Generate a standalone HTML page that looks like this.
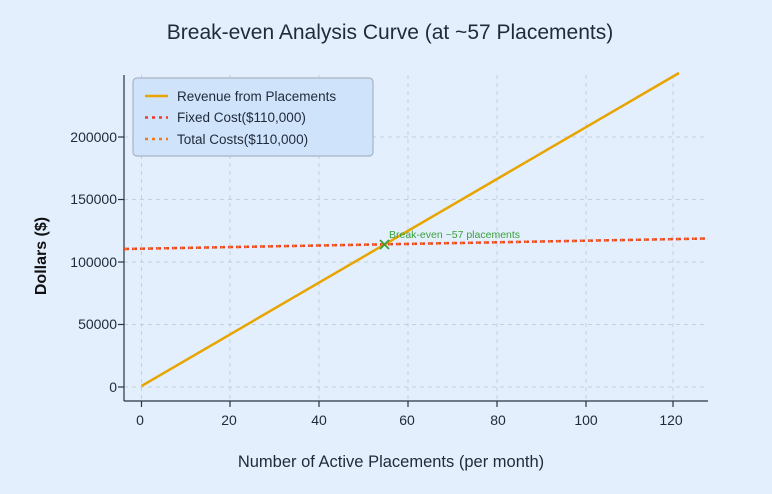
<!DOCTYPE html>
<html><head><style>
body{margin:0;background:#e3effd;}
svg{display:block;font-family:"Liberation Sans",sans-serif;}
</style></head><body>
<svg width="772" height="494" viewBox="0 0 772 494">
<rect width="772" height="494" fill="#e3effd"/>
<text x="390" y="39" font-size="21" fill="#1f2a3a" text-anchor="middle">Break-even Analysis Curve (at ~57 Placements)</text>
<g stroke="#c4cfdc" stroke-width="1" stroke-dasharray="4,4">
<line x1="141.5" y1="75" x2="141.5" y2="401"/><line x1="230" y1="75" x2="230" y2="401"/>
<line x1="319" y1="75" x2="319" y2="401"/><line x1="408" y1="75" x2="408" y2="401"/>
<line x1="497" y1="75" x2="497" y2="401"/><line x1="586" y1="75" x2="586" y2="401"/>
<line x1="673" y1="75" x2="673" y2="401"/>
<line x1="124" y1="387" x2="708" y2="387"/><line x1="124" y1="324.5" x2="708" y2="324.5"/>
<line x1="124" y1="262" x2="708" y2="262"/><line x1="124" y1="199.5" x2="708" y2="199.5"/>
<line x1="124" y1="137" x2="708" y2="137"/>
</g>
<g stroke="#2b3340" stroke-width="1.2">
<line x1="124" y1="75" x2="124" y2="401"/><line x1="124" y1="401" x2="708" y2="401"/>
<line x1="118" y1="387" x2="124" y2="387"/><line x1="118" y1="324.5" x2="124" y2="324.5"/>
<line x1="118" y1="262" x2="124" y2="262"/><line x1="118" y1="199.5" x2="124" y2="199.5"/>
<line x1="118" y1="137" x2="124" y2="137"/>
<line x1="141.5" y1="401" x2="141.5" y2="407"/><line x1="230" y1="401" x2="230" y2="407"/>
<line x1="319" y1="401" x2="319" y2="407"/><line x1="408" y1="401" x2="408" y2="407"/>
<line x1="497" y1="401" x2="497" y2="407"/><line x1="586" y1="401" x2="586" y2="407"/>
<line x1="673" y1="401" x2="673" y2="407"/>
</g>
<g font-size="14" fill="#1f2a3a" text-anchor="end">
<text x="117" y="392">0</text><text x="117" y="329">50000</text><text x="117" y="267">100000</text>
<text x="117" y="204">150000</text><text x="117" y="142">200000</text>
</g>
<g font-size="14" fill="#1f2a3a" text-anchor="middle">
<text x="140" y="425">0</text><text x="229" y="425">20</text><text x="319" y="425">40</text>
<text x="407" y="425">60</text><text x="498" y="425">80</text><text x="586" y="425">100</text><text x="671" y="425">120</text>
</g>
<text x="391" y="467" font-size="16.5" fill="#1f2a3a" text-anchor="middle">Number of Active Placements (per month)</text>
<text transform="translate(46,256) rotate(-90)" font-size="16" fill="#111" text-anchor="middle" font-weight="bold">Dollars ($)</text>
<line x1="141.5" y1="386" x2="679" y2="73" stroke="#e8a400" stroke-width="2.5"/>
<line x1="124" y1="249" x2="708" y2="238.5" stroke="#f23a2a" stroke-width="2.5" stroke-dasharray="5,3"/>
<line x1="124" y1="249" x2="708" y2="238.5" stroke="#f07a1a" stroke-width="2.5" stroke-dasharray="2,6" stroke-dashoffset="-1"/>
<g stroke="#3a9e3a" stroke-width="1.8"><line x1="380" y1="240" x2="389" y2="249"/><line x1="389" y1="240" x2="380" y2="249"/></g>
<text x="389" y="238" font-size="10.5" fill="#3aa03a">Break-even ~57 placements</text>
<rect x="133" y="78" width="240" height="78" rx="4" fill="#cfe3fb" stroke="#a8b4c2" stroke-width="1.2"/>
<line x1="145" y1="96" x2="168" y2="96" stroke="#e8a400" stroke-width="2.5"/>
<line x1="145" y1="117.5" x2="168" y2="117.5" stroke="#f23a2a" stroke-width="2.5" stroke-dasharray="3,4"/>
<line x1="145" y1="139" x2="168" y2="139" stroke="#f07a1a" stroke-width="2.5" stroke-dasharray="3,4"/>
<g font-size="13.5" fill="#1f2a3a">
<text x="177" y="101">Revenue from Placements</text>
<text x="177" y="122">Fixed Cost($110,000)</text>
<text x="177" y="144">Total Costs($110,000)</text>
</g>
</svg>
</body></html>
